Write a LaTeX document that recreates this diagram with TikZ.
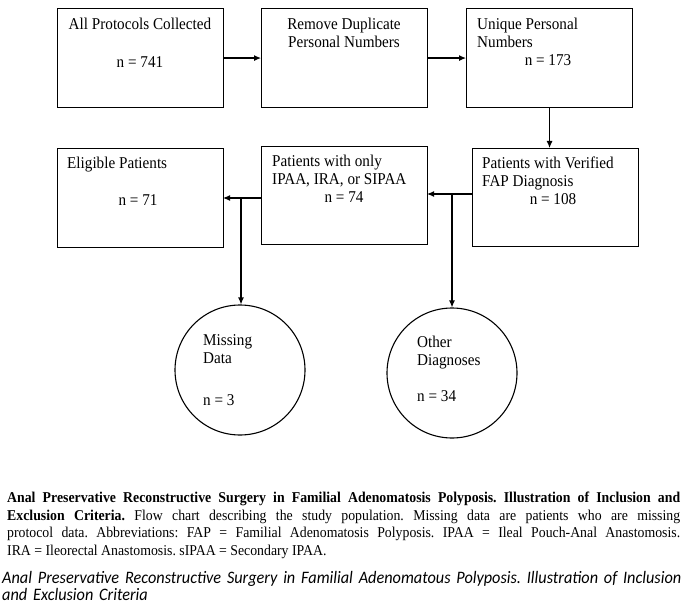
\documentclass[tikz,border=0pt]{standalone}
\usepackage{fontspec}
\setmainfont{Liberation Serif}[FakeStretch=0.92]
\newfontfamily\capfont{Carlito}[FakeStretch=0.93]
\usetikzlibrary{arrows.meta}
\begin{document}
\frenchspacing
\begin{tikzpicture}[x=1pt,y=-1pt,
  box/.style={draw,line width=1.1pt,rectangle,anchor=north west,inner sep=0pt},
  circ/.style={draw,line width=1.1pt,circle,minimum size=130pt,inner sep=0pt},
  lab/.style={font=\fontsize{16.5}{18}\selectfont,inner sep=0pt,yshift=-3pt},
  conn/.style={line width=1.1pt,-{Latex[length=7pt,width=6pt]}}]
\useasboundingbox (0,0) rectangle (685,604);
% boxes
\node[box,minimum width=166pt,minimum height=99pt] (b1) at (57,8) {};
\node[box,minimum width=166pt,minimum height=99pt] (b2) at (261,8) {};
\node[box,minimum width=166pt,minimum height=99pt] (b3) at (466,8) {};
\node[box,minimum width=166pt,minimum height=98pt] (b4) at (472,148) {};
\node[box,minimum width=166pt,minimum height=98pt] (b5) at (261,146) {};
\node[box,minimum width=166pt,minimum height=99pt] (b6) at (57,148) {};
\node[circ] (c1) at (240,370) {};
\node[circ] (c2) at (452,373) {};
% texts
\node[lab,anchor=mid] (t1a) at (140,24) {All Protocols Collected};
\node[lab,anchor=mid] (t1b) at (140,62) {n = 741};
\node[lab,anchor=mid] (t2a) at (344,24) {Remove Duplicate};
\node[lab,anchor=mid] (t2b) at (344,42) {Personal Numbers};
\node[lab,anchor=mid west] (t3a) at (477,24) {Unique Personal};
\node[lab,anchor=mid west] (t3b) at (477,42) {Numbers};
\node[lab,anchor=mid] (t3c) at (548,60) {n = 173};
\node[lab,anchor=mid west] (t4a) at (482,163) {Patients with Verified};
\node[lab,anchor=mid west] (t4b) at (482,181) {FAP Diagnosis};
\node[lab,anchor=mid] (t4c) at (553,199) {n = 108};
\node[lab,anchor=mid west] (t5a) at (272,161) {Patients with only};
\node[lab,anchor=mid west] (t5b) at (272,179) {IPAA, IRA, or SIPAA};
\node[lab,anchor=mid] (t5c) at (344,197) {n = 74};
\node[lab,anchor=mid west] (t6a) at (67,163) {Eligible Patients};
\node[lab,anchor=mid] (t6b) at (138,200) {n = 71};
\node[lab,anchor=mid west] (t7a) at (203,340) {Missing};
\node[lab,anchor=mid west] (t7b) at (203,358) {Data};
\node[lab,anchor=mid west] (t7c) at (203,400) {n = 3};
\node[lab,anchor=mid west] (t8a) at (417,342) {Other};
\node[lab,anchor=mid west] (t8b) at (417,360) {Diagnoses};
\node[lab,anchor=mid west] (t8c) at (417,396) {n = 34};
% connectors
\draw[conn] (b1.east) -- (b2.west);
\draw[conn] (b2.east) -- (b3.west);
\draw[conn] (b3.south) -- (b4.north -| b3.south);
\coordinate (j1) at (452,194);
\coordinate (s1) at (472,194);
\coordinate (e1) at (427,194);
\draw[conn] (s1) -- (e1);
\draw[conn] (j1) -- (c2.north);
\coordinate (j2) at (241,198);
\coordinate (s2) at (261,198);
\coordinate (e2) at (223,198);
\draw[conn] (s2) -- (e2);
\draw[conn] (j2) -- (c1.north -| j2);
% caption
\node[anchor=north west,inner sep=0pt,text width=673pt,align=justify,
  font=\fontsize{15}{17.5}\selectfont] (cap) at (7,492) {%
\textbf{Anal Preservative Reconstructive Surgery in Familial Adenomatosis Polyposis. Illustration of Inclusion and}\linebreak
\textbf{Exclusion Criteria.} Flow chart describing the study population. Missing data are patients who are missing\linebreak
protocol data. Abbreviations: FAP = Familial Adenomatosis Polyposis. IPAA = Ileal Pouch-Anal Anastomosis.\linebreak
IRA = Ileorectal Anastomosis. sIPAA = Secondary IPAA.};
\node[anchor=north west,inner sep=0pt,text width=685pt,align=left,
  font=\capfont\itshape\fontsize{17.5}{17}\selectfont] (cap2) at (2,571) {%
Anal Preservative Reconstructive Surgery in Familial Adenomatous Polyposis. Illustration of Inclusion\\
and Exclusion Criteria};
\end{tikzpicture}
\end{document}
